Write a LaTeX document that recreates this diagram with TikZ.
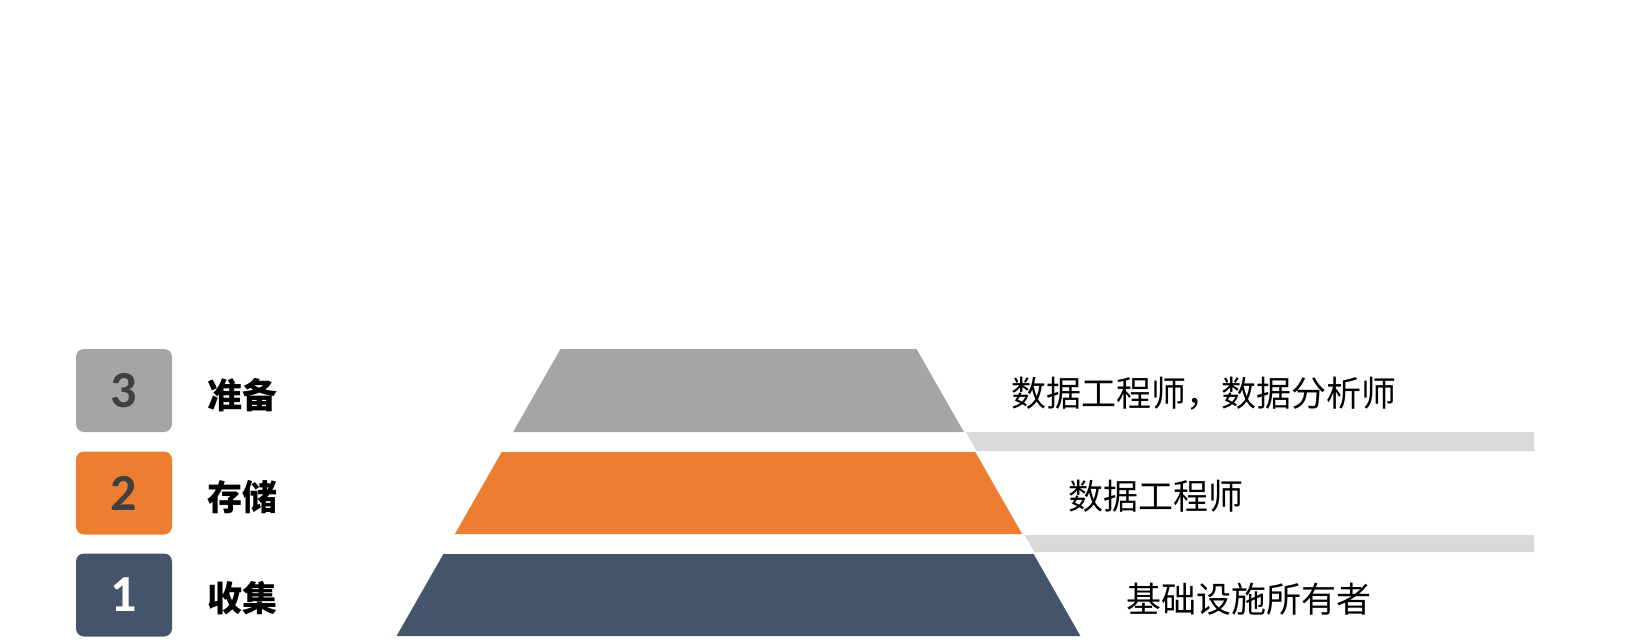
\documentclass[tikz,border=0pt]{standalone}
\usepackage{fontspec}
\setmainfont{Carlito}
\newfontfamily\cjk{Noto Sans CJK SC}

\definecolor{prepgray}{HTML}{A5A5A5}
\definecolor{storeorange}{HTML}{ED7D31}
\definecolor{collectnavy}{HTML}{44546A}
\definecolor{barsgray}{HTML}{D9D9D9}
\definecolor{numdark}{HTML}{404040}

\tikzset{
  numbox/.style={rounded corners=8pt, minimum width=96pt, minimum height=83pt,
    font=\fontsize{52}{52}\selectfont\bfseries},
  steplabel/.style={anchor=west, font=\cjk\bfseries\fontsize{35}{35}\selectfont},
  roletext/.style={anchor=west, font=\cjk\fontsize{35}{35}\selectfont}
}

\begin{document}
\begin{tikzpicture}[x=1pt, y=-1pt, every node/.style={inner sep=0pt}]
    \fill[white] (0,0) rectangle (1626,640);
    \useasboundingbox (0,0) rectangle (1626,640);

    % Pyramid layers
    \fill[prepgray] (560.5,349) -- (916.5,349) -- (963.9,432) -- (513.1,432) -- cycle;
    \fill[storeorange] (501.7,452) -- (975.3,452) -- (1022.1,534) -- (454.9,534) -- cycle;
    \fill[collectnavy] (443.4,554) -- (1033.6,554) -- (1080.4,636) -- (396.6,636) -- cycle;

    % Separator bars
    \fill[barsgray] (966,432) -- (1534,432) -- (1534,451) -- (976.5,451) -- cycle;
    \fill[barsgray] (1024.5,535) -- (1534,535) -- (1534,552) -- (1034.5,552) -- cycle;
    \draw[barsgray!85!black!60, densely dotted] (976.5,450.5) -- (1534,450.5);
    \draw[barsgray!85!black!60, densely dotted] (1034.5,551.5) -- (1534,551.5);

    % Step boxes
    \node[numbox, fill=prepgray, text=numdark] (box3) at (124,390.5) {3};
    \node[numbox, fill=storeorange, text=numdark] (box2) at (124,493) {2};
    \node[numbox, fill=collectnavy, text=white] (box1) at (124,595) {1};

    % Step labels
    \node[steplabel] (lab3) at (207,395) {准备};
    \node[steplabel] (lab2) at (207,497) {存储};
    \node[steplabel] (lab1) at (207,598) {收集};

    % Roles
    \node[roletext] (role3) at (1011,393.5) {数据工程师，数据分析师};
    \node[roletext] (role2) at (1068,496) {数据工程师};
    \node[roletext] (role1) at (1126,599) {基础设施所有者};

\end{tikzpicture}
\end{document}
